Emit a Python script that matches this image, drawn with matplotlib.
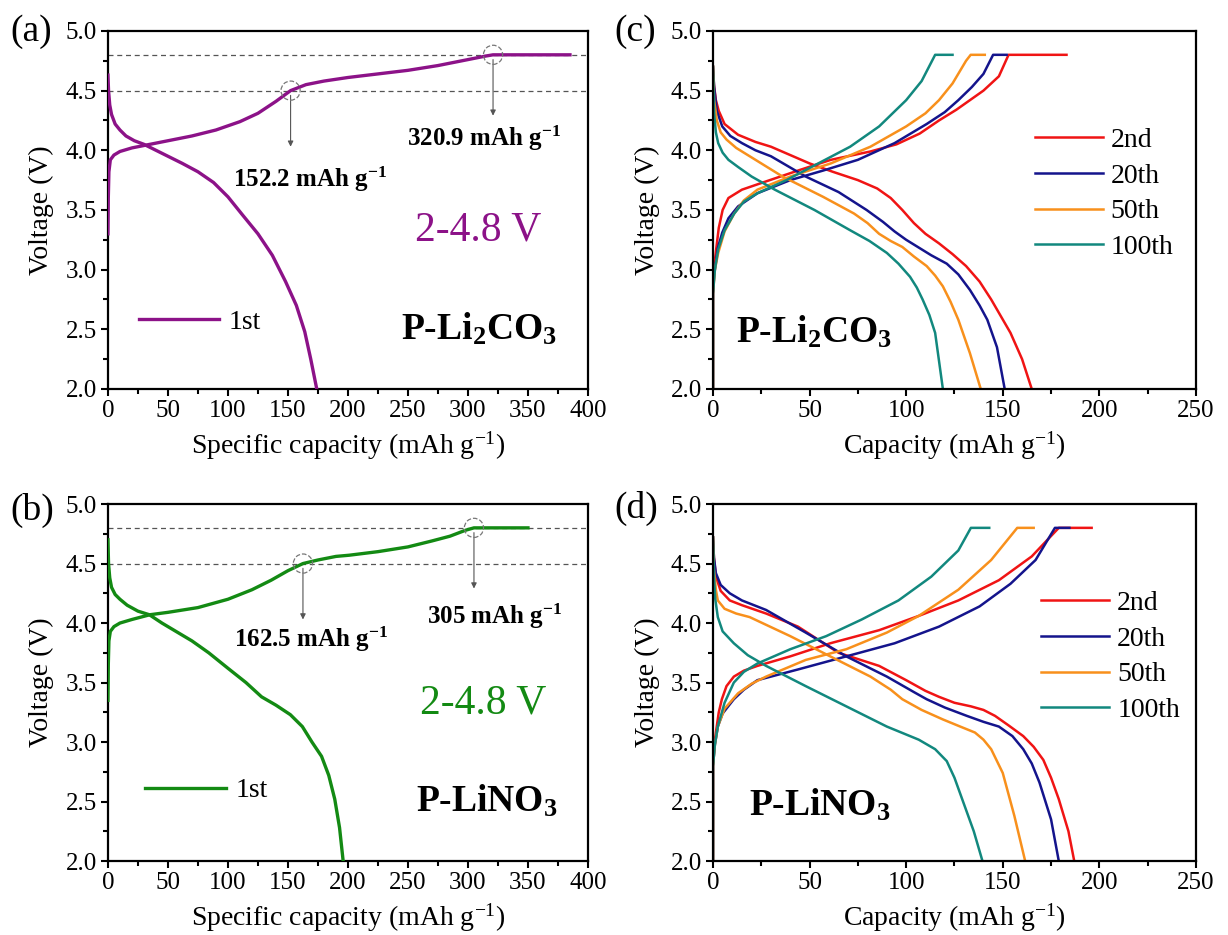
import matplotlib
matplotlib.use("Agg")
import matplotlib.pyplot as plt
from matplotlib.ticker import MultipleLocator

plt.rcParams['font.family'] = ['Liberation Serif', 'DejaVu Serif']
plt.rcParams['mathtext.fontset'] = 'custom'
plt.rcParams['mathtext.rm'] = 'Liberation Serif'
plt.rcParams['mathtext.bf'] = 'Liberation Serif:bold'
plt.rcParams['mathtext.it'] = 'Liberation Serif:italic'
plt.rcParams['mathtext.default'] = 'regular'

# ---------------- data ---------------- #
# (a) P-Li2CO3, 1st cycle
a_chg_cap = [0, 0.3, 0.8, 2, 5, 10, 20, 30, 50, 70, 90, 110, 125, 140, 152.2, 165, 180, 200,
             225, 250, 275, 300, 315, 320.9, 385]
a_chg_v = [3.30, 3.60, 3.82, 3.92, 3.96, 3.99, 4.02, 4.04, 4.08, 4.12, 4.17, 4.24, 4.31, 4.41,
           4.50, 4.55, 4.58, 4.61, 4.64, 4.67, 4.71, 4.76, 4.79, 4.80, 4.80]
a_dis_cap = [0, 0.5, 1.5, 3, 6, 10, 15, 22, 30, 40, 50, 62, 75, 88, 100, 112, 125, 137, 148,
             157, 164, 169, 174]
a_dis_v = [4.63, 4.50, 4.38, 4.30, 4.22, 4.17, 4.12, 4.08, 4.05, 4.00, 3.95, 3.89, 3.82, 3.73,
           3.61, 3.46, 3.30, 3.12, 2.90, 2.70, 2.48, 2.25, 2.00]

# (b) P-LiNO3, 1st cycle
b_chg_cap = [0, 0.3, 0.8, 2, 5, 10, 20, 35, 50, 75, 100, 120, 136, 150, 162.5, 175, 190, 201,
             225, 250, 270, 285, 298, 305, 350]
b_chg_v = [3.35, 3.65, 3.85, 3.93, 3.97, 4.00, 4.03, 4.07, 4.09, 4.13, 4.20, 4.28, 4.36, 4.44,
           4.50, 4.53, 4.56, 4.57, 4.60, 4.64, 4.69, 4.73, 4.78, 4.80, 4.80]
b_dis_cap = [0, 0.5, 1.5, 3, 6, 10, 16, 25, 34.5, 45, 55, 70, 84, 100, 115, 128, 140, 152, 162,
             170, 178, 184, 189, 193, 196]
b_dis_v = [4.70, 4.50, 4.38, 4.30, 4.24, 4.20, 4.15, 4.10, 4.07, 4.00, 3.94, 3.85, 3.75, 3.62,
           3.50, 3.38, 3.31, 3.23, 3.13, 3.00, 2.88, 2.72, 2.52, 2.28, 2.00]

cycles = ["2nd", "20th", "50th", "100th"]
cycle_colors = ["#f01414", "#14148c", "#f8901c", "#12887e"]

# (c) P-Li2CO3, cycles 2/20/50/100
c_chg_cap = [
    [0, 0, 0.5, 1.5, 3, 5, 8, 15, 27.6, 44, 61, 81.5, 95, 107, 117, 126, 133, 140, 148, 153, 183],
    [0, 0, 0.6, 1.2, 2.5, 4.8, 8, 13, 23, 40, 57, 75, 94, 110.6, 120, 127, 134, 140, 145, 152],
    [0, 0, 1, 2.7, 6, 11, 16, 23, 40, 61, 81.5, 100, 110, 117, 124, 131, 133.4, 140.7],
    [0, 0, 1, 2.7, 6, 11, 16, 23, 38, 54.5, 71, 86, 100, 108, 115, 124],
]
c_chg_v = [
    [2.0, 2.8, 3.0, 3.15, 3.35, 3.50, 3.60, 3.67, 3.74, 3.83, 3.92, 3.99, 4.05, 4.14, 4.25, 4.34,
     4.42, 4.50, 4.62, 4.80, 4.80],
    [2.0, 2.8, 2.95, 3.03, 3.18, 3.31, 3.43, 3.53, 3.64, 3.75, 3.83, 3.92, 4.06, 4.22, 4.32, 4.42,
     4.53, 4.64, 4.80, 4.80],
    [2.0, 2.8, 3.0, 3.14, 3.32, 3.47, 3.58, 3.67, 3.78, 3.89, 4.03, 4.20, 4.31, 4.42, 4.56, 4.75,
     4.80, 4.80],
    [2.0, 2.8, 3.0, 3.17, 3.33, 3.47, 3.57, 3.64, 3.75, 3.89, 4.03, 4.20, 4.42, 4.58, 4.80, 4.80],
]
c_dis_cap = [
    [0, 0.5, 1.5, 3, 6, 13, 22, 30, 40, 50, 62, 75, 85, 92, 98, 104, 110, 117, 124, 131, 138,
     144, 149, 154, 160, 165],
    [0, 0.6, 2, 4.8, 9, 15, 22, 30, 48, 65, 79.5, 88, 94, 100, 106, 113, 121, 127, 133, 138, 142,
     147, 151],
    [0, 0.6, 2, 4, 7, 12, 19, 36, 57, 73, 80, 86, 92, 98, 104, 110.6, 115, 119, 123, 127, 133,
     138.6],
    [0, 0.6, 1.5, 2.7, 5, 8, 13, 20, 32, 52.5, 71, 81, 90, 96, 102, 105.5, 108.5, 112, 115, 119],
]
c_dis_v = [
    [4.70, 4.55, 4.42, 4.33, 4.22, 4.13, 4.07, 4.03, 3.96, 3.89, 3.82, 3.75, 3.68, 3.60, 3.50,
     3.39, 3.30, 3.22, 3.13, 3.03, 2.90, 2.75, 2.61, 2.47, 2.25, 2.00],
    [4.70, 4.53, 4.33, 4.20, 4.12, 4.06, 4.00, 3.95, 3.78, 3.65, 3.50, 3.40, 3.32, 3.25, 3.19,
     3.12, 3.05, 2.96, 2.83, 2.70, 2.58, 2.35, 2.00],
    [4.70, 4.42, 4.25, 4.15, 4.09, 4.02, 3.95, 3.78, 3.61, 3.47, 3.39, 3.30, 3.24, 3.19, 3.11,
     3.03, 2.95, 2.86, 2.73, 2.58, 2.30, 2.00],
    [4.70, 4.31, 4.15, 4.06, 3.98, 3.92, 3.86, 3.78, 3.67, 3.50, 3.33, 3.24, 3.14, 3.05, 2.94,
     2.85, 2.75, 2.62, 2.47, 2.00],
]

# (d) P-LiNO3, cycles 2/20/50/100
d_chg_cap = [
    [0, 0, 0.7, 1.5, 3, 4.6, 7, 10.8, 16, 23, 40, 60.7, 86, 106.5, 127, 148, 165, 179, 196],
    [0, 0, 1, 2.5, 5, 10.8, 16, 23, 44, 69, 94, 117, 138, 154, 167, 177, 184.5],
    [0, 0, 1, 2.5, 6, 13, 20, 27.5, 48, 69, 90, 106.5, 127, 144, 157.5, 166],
    [0, 0, 1, 2.5, 6, 10.8, 16, 23, 40, 58.6, 77, 96, 113, 127, 133.5, 143],
]
d_chg_v = [
    [2.0, 2.8, 2.98, 3.08, 3.25, 3.36, 3.47, 3.55, 3.60, 3.64, 3.72, 3.83, 3.94, 4.06, 4.19, 4.36,
     4.56, 4.80, 4.80],
    [2.0, 2.8, 2.98, 3.13, 3.24, 3.36, 3.44, 3.52, 3.61, 3.72, 3.83, 3.97, 4.14, 4.33, 4.53, 4.80,
     4.80],
    [2.0, 2.8, 2.98, 3.13, 3.28, 3.41, 3.49, 3.55, 3.69, 3.78, 3.92, 4.06, 4.28, 4.53, 4.80, 4.80],
    [2.0, 2.8, 2.98, 3.13, 3.33, 3.50, 3.59, 3.66, 3.78, 3.89, 4.03, 4.19, 4.39, 4.61, 4.80, 4.80],
]
d_dis_cap = [
    [0, 0.5, 1.5, 4, 8.7, 15, 27.5, 44, 65, 86, 100, 110, 117, 125, 133.5, 140, 146, 153, 160.6,
     166, 171, 175, 179, 184, 187],
    [0, 0.5, 1.5, 4, 8.7, 15, 27.5, 48, 69, 90, 104, 110.6, 120, 131.4, 140, 148, 155, 160.6, 165,
     169, 175, 179],
    [0, 0.5, 1.5, 2.5, 6, 12, 19, 40, 60.7, 81.5, 92, 98, 108, 119, 128, 135.6, 140, 144, 150, 156,
     161.6],
    [0, 0.5, 1.2, 2.5, 5, 10.8, 18, 27.5, 48, 69, 90, 99, 106.5, 115, 121, 125, 129, 135, 139.5],
]
d_dis_v = [
    [4.72, 4.55, 4.39, 4.27, 4.19, 4.15, 4.08, 3.97, 3.75, 3.64, 3.52, 3.43, 3.38, 3.33, 3.30,
     3.27, 3.22, 3.14, 3.05, 2.96, 2.85, 2.70, 2.52, 2.25, 2.00],
    [4.72, 4.55, 4.42, 4.32, 4.25, 4.19, 4.11, 3.92, 3.72, 3.55, 3.42, 3.36, 3.29, 3.22, 3.17,
     3.13, 3.05, 2.94, 2.82, 2.66, 2.35, 2.00],
    [4.72, 4.45, 4.28, 4.19, 4.12, 4.08, 4.05, 3.89, 3.72, 3.55, 3.44, 3.36, 3.27, 3.19, 3.13,
     3.08, 3.02, 2.94, 2.74, 2.38, 2.00],
    [4.72, 4.40, 4.20, 4.05, 3.93, 3.83, 3.73, 3.64, 3.47, 3.30, 3.13, 3.07, 3.02, 2.94, 2.84,
     2.70, 2.52, 2.25, 2.00],
]

# marked capacities (first-cycle panels)
a_marks = [(152.2, 4.5, "152.2"), (320.9, 4.8, "320.9")]
b_marks = [(162.5, 4.5, "162.5"), (305, 4.8, "305")]

PURPLE = "#8c1288"
GREEN = "#138a13"
UNIT = r" mAh g$^{-1}$"


def style_axes(ax, xmax, xmajor, xlabel):
    ax.set_xlim(0, xmax)
    ax.set_ylim(2.0, 5.0)
    ax.xaxis.set_major_locator(MultipleLocator(xmajor))
    ax.xaxis.set_minor_locator(MultipleLocator(xmajor / 2))
    ax.yaxis.set_major_locator(MultipleLocator(0.5))
    ax.yaxis.set_minor_locator(MultipleLocator(0.25))
    ax.yaxis.set_major_formatter(plt.FormatStrFormatter('%.1f'))
    ax.tick_params(which='both', direction='out', width=1.5, labelsize=18, pad=3)
    ax.tick_params(which='major', length=5)
    ax.tick_params(which='minor', length=3.5)
    for s in ax.spines.values():
        s.set_linewidth(1.6)
    ax.set_xlabel(xlabel, fontsize=20, labelpad=5)
    ax.set_ylabel("Voltage (V)", fontsize=20, labelpad=8)


def first_cycle_panel(ax, chg_cap, chg_v, dis_cap, dis_v, color, marks, label_pos, name, name_pos,
                      leg_pos):
    for yv in (4.5, 4.8):
        ax.axhline(yv, color='#555555', lw=0.9, ls=(0, (4, 3)), zorder=1)
    ax.plot(chg_cap, chg_v, color=color, lw=2.4, label="1st", zorder=3)
    ax.plot(dis_cap, dis_v, color=color, lw=2.4, zorder=3)
    for (x, y, txt), (tx, ty), tip in zip(marks, label_pos, (0.47, 0.51)):
        ax.scatter([x], [y], s=190, facecolors='none', edgecolors='#777777',
                   linewidths=0.9, linestyles='--', zorder=4)
        ax.annotate('', xy=(x, y - tip), xytext=(x, y - 0.04),
                    arrowprops=dict(arrowstyle='-|>', color='#555555', lw=0.8,
                                    mutation_scale=8, shrinkA=0, shrinkB=0))
        ax.text(tx, ty, txt + UNIT, fontsize=18, fontweight='bold', ha='left', va='center')
    ax.text(name_pos[0], 3.33, "2-4.8 V", color=color, fontsize=30, ha='left', va='center')
    ax.text(name_pos[1], 2.5, name, fontsize=27, fontweight='bold', ha='left', va='center')
    ax.legend(loc='center left', bbox_to_anchor=leg_pos, frameon=False, fontsize=20,
              handlelength=2.9, handletextpad=0.35, borderpad=0, borderaxespad=0)


def cycles_panel(ax, chg_cap, chg_v, dis_cap, dis_v, name, name_x, leg_pos):
    for i, lab in enumerate(cycles):
        ax.plot(chg_cap[i], chg_v[i], color=cycle_colors[i], lw=1.8, label=lab)
        ax.plot(dis_cap[i], dis_v[i], color=cycle_colors[i], lw=1.8)
    ax.text(name_x, 2.47, name, fontsize=27, fontweight='bold', ha='left', va='center')
    ax.legend(loc='center left', bbox_to_anchor=leg_pos, frameon=False, fontsize=20,
              handlelength=2.45, handletextpad=0.28, labelspacing=0.37, borderpad=0,
              borderaxespad=0)


fig = plt.figure(figsize=(12.28, 9.35), dpi=100)
ax_a = fig.add_axes([0.0879, 0.584, 0.3909, 0.3829])
ax_b = fig.add_axes([0.0879, 0.0791, 0.3909, 0.3818])
ax_c = fig.add_axes([0.5806, 0.584, 0.3933, 0.3829])
ax_d = fig.add_axes([0.5806, 0.0791, 0.3933, 0.3818])

xl_spec = r"Specific capacity (mAh g$^{-1}$)"
xl_cap = r"Capacity (mAh g$^{-1}$)"

first_cycle_panel(ax_a, a_chg_cap, a_chg_v, a_dis_cap, a_dis_v, PURPLE, a_marks,
                  [(104, 3.76), (249, 4.10)], r"P-Li$_\mathbf{2}$CO$_\mathbf{3}$", (256, 244),
                  (0.064, 0.187))
style_axes(ax_a, 400, 50, xl_spec)

first_cycle_panel(ax_b, b_chg_cap, b_chg_v, b_dis_cap, b_dis_v, GREEN, b_marks,
                  [(105, 3.86), (266, 4.06)], r"P-LiNO$_\mathbf{3}$", (260, 257),
                  (0.0775, 0.197))
style_axes(ax_b, 400, 50, xl_spec)

cycles_panel(ax_c, c_chg_cap, c_chg_v, c_dis_cap, c_dis_v, r"P-Li$_\mathbf{2}$CO$_\mathbf{3}$",
             12, (0.666, 0.545))
style_axes(ax_c, 250, 50, xl_cap)

cycles_panel(ax_d, d_chg_cap, d_chg_v, d_dis_cap, d_dis_v, r"P-LiNO$_\mathbf{3}$", 18.7,
             (0.68, 0.572))
style_axes(ax_d, 250, 50, xl_cap)

for lab, x, y in [("(a)", 10, 32), ("(c)", 614, 32), ("(b)", 10, 510), ("(d)", 614, 508)]:
    fig.text(x / 1228, 1 - y / 935, lab, fontsize=27, ha='left', va='center')

fig.savefig("out.png", dpi=100)
